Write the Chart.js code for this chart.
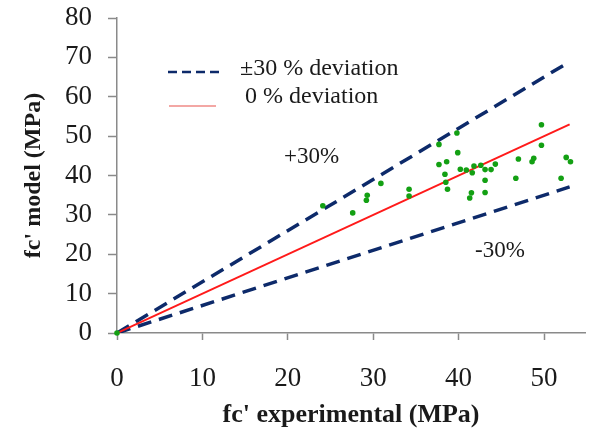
<!DOCTYPE html>
<html>
<head>
<meta charset="utf-8">
<script src="https://cdn.jsdelivr.net/npm/chart.js@4/dist/chart.umd.min.js"></script>
<style>
  html,body{margin:0;padding:0;background:#fff;}
  #wrap{position:relative;width:589px;height:433px;}
</style>
</head>
<body>
<div id="wrap"><canvas id="c" width="589" height="433"></canvas></div>
<script>
// ---- data ----
const lineX = [0, 53];
const upperY = [0, 68.9];   // +30 % deviation
const zeroY = [0, 53];      // 0 % deviation
const lowerY = [0, 37.1];   // -30 % deviation

const expX = [0, 24.1, 27.6, 29.3, 29.2, 30.9, 34.2, 34.2, 37.7, 39.8, 39.9, 37.7, 38.6, 38.4, 38.5, 38.7,
  40.2, 40.9, 41.8, 41.6, 41.5, 41.3, 42.6, 43.1, 43.8, 44.3, 43.1, 43.1, 47.0, 46.7, 48.6, 48.8,
  49.7, 49.7, 52.0, 52.6, 53.1];
const modelY = [0, 32.3, 30.5, 35.0, 33.7, 38.0, 36.5, 34.8, 47.9, 50.8, 45.8, 42.8, 43.5, 40.3, 38.3, 36.5,
  41.6, 41.4, 42.4, 40.7, 35.6, 34.3, 42.6, 41.5, 41.5, 42.9, 38.8, 35.7, 44.2, 39.3, 43.5, 44.4,
  52.9, 47.7, 39.3, 44.6, 43.5];

const xTicks = [0, 10, 20, 30, 40, 50];
const yTicks = [0, 10, 20, 30, 40, 50, 60, 70, 80];

const legendLabels = ['\u00b130 % deviation', '0 % deviation'];
const zoneLabels = ['+30%', '-30%'];

// ---- build ----
const pts = (xs, ys) => xs.map((x, i) => ({x: x, y: ys[i]}));
const NAVY = '#0d2a6a';
const SERIF = '"Liberation Serif", "Times New Roman", serif';

const annot = {
  id: 'annot',
  afterDraw(chart) {
    const ctx = chart.ctx;
    ctx.save();
    // legend
    ctx.strokeStyle = NAVY; ctx.lineWidth = 2.5; ctx.setLineDash([9, 5]);
    ctx.beginPath(); ctx.moveTo(168, 72); ctx.lineTo(219, 72); ctx.stroke();
    ctx.setLineDash([]);
    ctx.strokeStyle = '#e8504a'; ctx.lineWidth = 1.2;
    ctx.beginPath(); ctx.moveTo(169, 106); ctx.lineTo(216, 106); ctx.stroke();
    ctx.fillStyle = '#1a1a1a';
    ctx.font = '24px ' + SERIF;
    ctx.textBaseline = 'middle'; ctx.textAlign = 'left';
    ctx.fillText(legendLabels[0], 240, 69);
    ctx.fillText(legendLabels[1], 245, 97);
    ctx.font = '23px ' + SERIF;
    ctx.fillText(zoneLabels[0], 284, 157);
    ctx.fillText(zoneLabels[1], 475, 251);
    ctx.restore();
  }
};

new Chart(document.getElementById('c'), {
  type: 'scatter',
  data: {
    datasets: [
      {type: 'scatter', data: pts(expX, modelY), backgroundColor: '#13a013', borderColor: '#13a013',
       pointRadius: 2.8, pointBorderWidth: 0, order: 0, clip: false},
      {type: 'line', data: pts(lineX, zeroY), borderColor: '#ff1a1a', borderWidth: 2,
       pointRadius: 0, fill: false, order: 1},
      {type: 'line', data: pts(lineX, upperY), borderColor: NAVY, borderWidth: 3.5, borderDash: [14, 8],
       pointRadius: 0, fill: false, order: 2, borderCapStyle: 'butt'},
      {type: 'line', data: pts(lineX, lowerY), borderColor: NAVY, borderWidth: 3.5, borderDash: [14, 8],
       pointRadius: 0, fill: false, order: 3, borderCapStyle: 'butt'}
    ]
  },
  options: {
    responsive: false,
    animation: false,
    devicePixelRatio: 1,
    layout: {padding: {top: 18, right: 0, left: 0, bottom: 0}},
    plugins: {legend: {display: false}, tooltip: {enabled: false}},
    scales: {
      x: {
        type: 'linear', min: 0, max: 54.8,
        afterBuildTicks: s => { s.ticks = xTicks.map(v => ({value: v})); },
        afterFit: s => { s.height = 100; s.paddingLeft = 0; s.paddingRight = 0; },
        border: {color: '#8a8a8a', width: 1.5},
        grid: {display: true, drawOnChartArea: false, drawTicks: true, tickLength: 7, tickColor: '#8a8a8a', tickWidth: 1.5},
        ticks: {color: '#1a1a1a', font: {family: SERIF, size: 27}, padding: 23, maxRotation: 0},
        title: {display: true, text: "fc' experimental (MPa)", color: '#1a1a1a',
                font: {family: SERIF, size: 26, weight: 'bold'}, padding: {top: 0, bottom: 2}}
      },
      y: {
        type: 'linear', min: 0, max: 80,
        afterBuildTicks: s => { s.ticks = yTicks.map(v => ({value: v})); },
        afterFit: s => { s.width = 117; s.paddingTop = 0; s.paddingBottom = 0; },
        border: {color: '#8a8a8a', width: 1.5},
        grid: {display: true, drawOnChartArea: false, drawTicks: true, tickLength: 9, tickColor: '#8a8a8a', tickWidth: 1.5},
        ticks: {color: '#1a1a1a', font: {family: SERIF, size: 27}, padding: 16},
        title: {display: true, text: "fc' model (MPa)", color: '#1a1a1a',
                font: {family: SERIF, size: 24, weight: 'bold'}, padding: {top: 19, bottom: 0}}
      }
    }
  },
  plugins: [annot]
});
</script>
</body>
</html>
